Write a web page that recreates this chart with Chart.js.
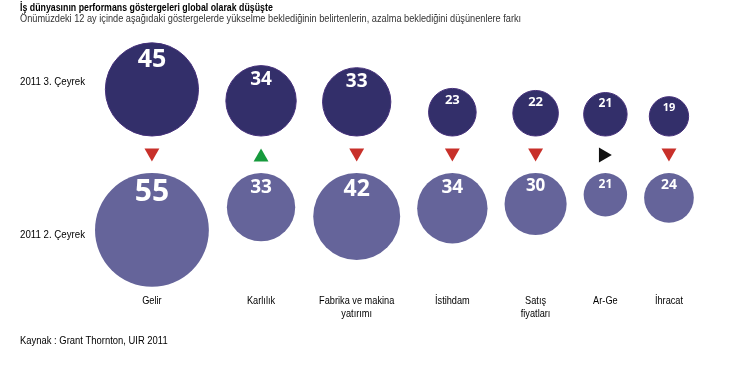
<!DOCTYPE html>
<html>
<head>
<meta charset="utf-8">
<script src="https://cdn.jsdelivr.net/npm/chart.js@4/dist/chart.umd.min.js"></script>
<style>
  html, body { margin: 0; padding: 0; background: #fff; }
  #wrap { position: relative; width: 734px; height: 386px; }
</style>
</head>
<body>
<div id="wrap"><canvas id="bubbles"></canvas></div>
<script>
// data
const categories = ["Gelir", "Karlılık", ["Fabrika ve makina", "yatırımı"], "İstihdam", ["Satış", "fiyatları"], "Ar-Ge", "İhracat"];
const seriesNames = ["2011 3. Çeyrek", "2011 2. Çeyrek"];
const q3Values = [45, 34, 33, 23, 22, 21, 19];
const q2Values = [55, 33, 42, 34, 30, 21, 24];

const titleText = "İş dünyasının performans göstergeleri global olarak düşüşte";
const subtitleText = "Önümüzdeki 12 ay içinde aşağıdaki göstergelerde yükselme beklediğinin belirtenlerin, azalma beklediğini düşünenlere farkı";
const sourceText = "Kaynak : Grant Thornton, UIR 2011";

// layout
const W = 734, H = 386;
const R_PER_UNIT = 1.035;
const FIRST_LEFT = 95;
const GAP = 17;
const TOP_ROW_BASE = 136;   // top circles sit on this line
const BOTTOM_ROW_TOP = 173; // bottom circles hang from this line
const ARROW_Y = 155;
const ARROW_R = 8.6;

const rad = v => v * R_PER_UNIT;

// columns are as wide as their largest circle, with a fixed gap between them
const colX = [];
let left = FIRST_LEFT;
q3Values.forEach((v, i) => {
  const w = 2 * Math.max(rad(v), rad(q2Values[i]));
  colX.push(left + w / 2);
  left += w + GAP;
});

const topData = q3Values.map((v, i) => ({ x: colX[i], y: TOP_ROW_BASE - rad(v), r: rad(v), v: v }));
const bottomData = q2Values.map((v, i) => ({ x: colX[i], y: BOTTOM_ROW_TOP + rad(v), r: rad(v), v: v }));

// arrow direction from the change between quarters
const trend = q3Values.map((v, i) => Math.sign(v - q2Values[i]));
const arrowData = trend.map((t, i) => {
  if (t > 0) return { x: colX[i], y: ARROW_Y + ARROW_R / 4 };
  if (t < 0) return { x: colX[i], y: ARROW_Y - ARROW_R / 4 };
  return { x: colX[i] - ARROW_R / 4, y: ARROW_Y };
});
const arrowRotation = trend.map(t => t > 0 ? 0 : t < 0 ? 180 : 90);
const arrowColor = trend.map(t => t > 0 ? "#169a3d" : t < 0 ? "#c8302a" : "#111111");

// condensed text: squeeze a normal face horizontally
function narrowText(ctx, text, x, y, font, sx, align) {
  ctx.save();
  ctx.font = font;
  ctx.textAlign = align;
  ctx.translate(x, y);
  ctx.scale(sx, 1);
  ctx.fillText(text, 0, 0);
  ctx.restore();
}

const NARROW = "'Liberation Sans', 'Arial', sans-serif";

const textPlugin = {
  id: "texts",
  afterDatasetsDraw(chart) {
    const ctx = chart.ctx;
    const xs = chart.scales.x;
    ctx.save();

    // values inside the circles
    ctx.fillStyle = "#ffffff";
    ctx.textAlign = "center";
    ctx.textBaseline = "alphabetic";
    [0, 1].forEach(di => {
      chart.getDatasetMeta(di).data.forEach((el, i) => {
        const d = chart.data.datasets[di].data[i];
        const size = Math.round(d.r / 2 + 1.5);
        ctx.font = "bold " + size + "px 'Open Sans', 'DejaVu Sans', sans-serif";
        const top = el.y - d.r;
        ctx.fillText(String(d.v), el.x, top + 6 + size * 0.72);
      });
    });

    ctx.textBaseline = "middle";
    ctx.fillStyle = "#000000";

    // category labels
    categories.forEach((c, i) => {
      const lines = Array.isArray(c) ? c : [c];
      lines.forEach((l, j) => narrowText(ctx, l, xs.getPixelForValue(colX[i]), 300.5 + j * 13, "11.5px " + NARROW, 0.8, "center"));
    });

    // row labels
    narrowText(ctx, seriesNames[0], 20, 82, "10px " + NARROW, 0.97, "left");
    narrowText(ctx, seriesNames[1], 20, 235, "10px " + NARROW, 0.97, "left");

    // title, subtitle, source
    narrowText(ctx, titleText, 20, 8, "bold 11px " + NARROW, 0.8, "left");
    ctx.fillStyle = "#333333";
    narrowText(ctx, subtitleText, 20, 19, "10px " + NARROW, 0.92, "left");
    ctx.fillStyle = "#000000";
    narrowText(ctx, sourceText, 20, 340.5, "11.5px " + NARROW, 0.82, "left");

    ctx.restore();
  }
};

new Chart(document.getElementById("bubbles"), {
  type: "bubble",
  data: {
    datasets: [
      {
        label: seriesNames[0],
        data: topData,
        backgroundColor: "#332f6a",
        borderColor: "#45307a",
        borderWidth: 1,
        hoverRadius: 0
      },
      {
        label: seriesNames[1],
        data: bottomData,
        backgroundColor: "#65649a",
        borderColor: "#65649a",
        borderWidth: 0,
        hoverRadius: 0
      },
      {
        type: "scatter",
        label: "trend",
        data: arrowData,
        pointStyle: "triangle",
        pointRadius: ARROW_R,
        rotation: arrowRotation,
        backgroundColor: arrowColor,
        borderColor: arrowColor,
        borderWidth: 0
      }
    ]
  },
  options: {
    responsive: true,
    maintainAspectRatio: false,
    animation: false,
    layout: { padding: 0, autoPadding: false },
    clip: false,
    scales: {
      x: { type: "linear", min: 0, max: W, display: false },
      y: { type: "linear", min: 0, max: H, reverse: true, display: false }
    },
    plugins: {
      legend: { display: false },
      tooltip: { enabled: false }
    }
  },
  plugins: [textPlugin]
});
</script>
</body>
</html>
